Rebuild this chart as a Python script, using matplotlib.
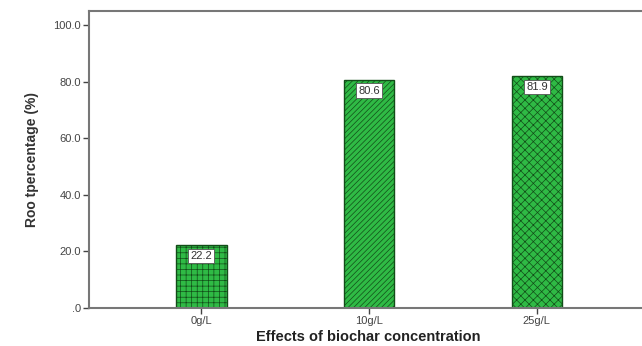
import matplotlib.pyplot as plt
import numpy as np

plt.rcParams['font.family'] = ['Liberation Sans', 'DejaVu Sans']
plt.rcParams['hatch.linewidth'] = 0.5

categories = ["0g/L", "10g/L", "25g/L"]
root_pct = [22.2, 80.6, 81.9]
hatches = ["+++", "//////", "xxxx"]

fig = plt.figure(figsize=(6.42, 3.46), dpi=100)
ax = fig.add_axes([0.1386, 0.11, 0.87, 0.858])

x = np.arange(len(categories))
bars = ax.bar(x, root_pct, width=0.3, color="#2fba45", edgecolor="#124d18",
              linewidth=1.0, zorder=2)
for bar, h in zip(bars, hatches):
    bar.set_hatch(h)

# value boxes near the top of each bar
for bar, val in zip(bars, root_pct):
    ax.text(bar.get_x() + bar.get_width() / 2, val - 2.0, f"{val:.1f}",
            ha="center", va="top", fontsize=8, color="#333333", zorder=3,
            bbox=dict(boxstyle="square,pad=0.2", fc="white", ec="#555555", lw=0.6))

ax.set_xlim(-0.67, 2.66)
ax.set_ylim(0, 105)
ax.set_yticks([0, 20, 40, 60, 80, 100])
ax.set_yticklabels([".0", "20.0", "40.0", "60.0", "80.0", "100.0"])
ax.set_xticks(x)
ax.set_xticklabels(categories)
ax.tick_params(axis="both", labelsize=8, colors="#444444", direction="out", length=4, width=1.0, pad=2)

for side in ["left", "bottom", "top", "right"]:
    ax.spines[side].set_color("#777777")
    ax.spines[side].set_linewidth(1.5)

ax.set_ylabel("Roo tpercentage (%)", fontsize=10, fontweight="bold", color="#333333", labelpad=10)
ax.set_xlabel("Effects of biochar concentration", fontsize=10.5, fontweight="bold", color="#222222", labelpad=3)

fig.savefig("out.png", dpi=100)
